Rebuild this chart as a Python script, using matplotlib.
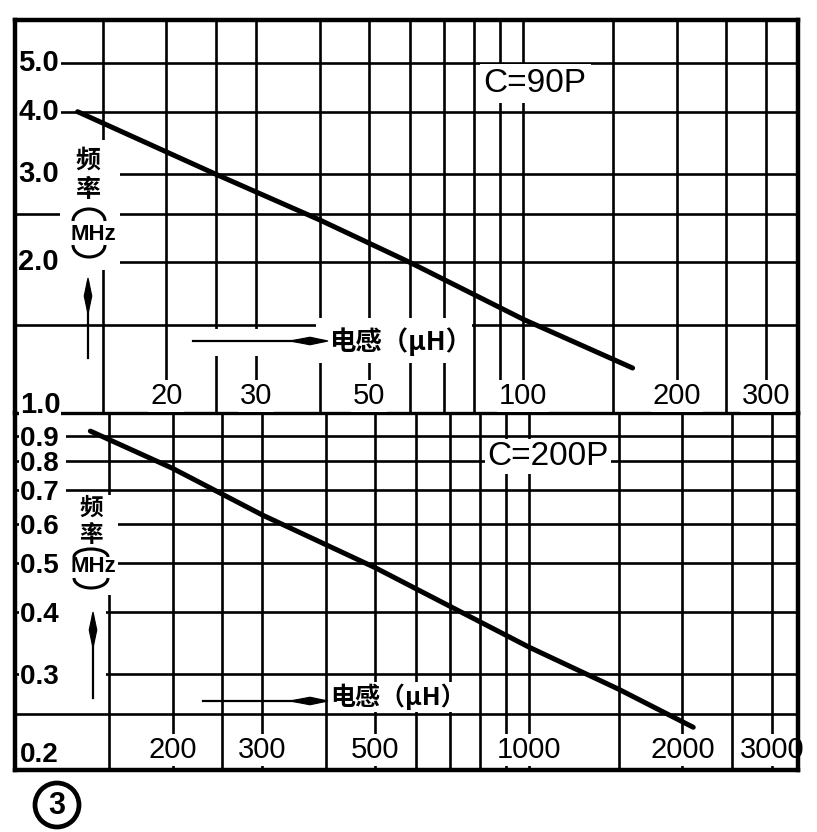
import matplotlib
matplotlib.use('Agg')
import matplotlib.pyplot as plt
import matplotlib.transforms as mtransforms
from matplotlib.patches import Rectangle, Polygon, Arc, Ellipse
from matplotlib.lines import Line2D

# ---------------- data ----------------
# upper chart: C = 90 pF, inductance 10..350 uH, frequency 1..6 MHz
top_L = [13.4, 25, 40, 60, 100, 164]
top_f = [4.0, 3.0, 2.43, 2.0, 1.54, 1.23]
top_xgrid = [15, 20, 25, 30, 40, 50, 60, 70, 80, 90, 100, 150, 200, 250, 300]
top_ygrid = [1.5, 2.0, 2.5, 3.0, 4.0, 5.0]
top_xlabels = [20, 30, 50, 100, 200, 300]
top_ylabels = [5.0, 4.0, 3.0, 2.0]

# lower chart: C = 200 pF, inductance 100..3400 uH, frequency 0.2..1 MHz
bot_L = [138, 200, 300, 500, 1000, 1500, 2100]
bot_f = [0.92, 0.775, 0.625, 0.49, 0.34, 0.28, 0.235]
bot_xgrid = [150, 200, 250, 300, 400, 500, 600, 700, 800, 900, 1000, 1500, 2000, 2500, 3000]
bot_ygrid = [0.25, 0.3, 0.4, 0.5, 0.6, 0.7, 0.8, 0.9]
bot_xlabels = [200, 300, 500, 1000, 2000, 3000]
bot_ylabels = [0.9, 0.8, 0.7, 0.6, 0.5, 0.4, 0.3]

top_title = "C=90P"
bot_title = "C=200P"
xlabel_text = "电感（µH）"
ylabel_chars = ["频", "率"]
unit_text = "MHz"
fig_number = "3"

# ---------------- styling ----------------
NARROW = ['Liberation Sans', 'DejaVu Sans']
SANS = ['Liberation Sans', 'DejaVu Sans']
CJK = ['Noto Sans CJK SC', 'DejaVu Sans']
W, H = 817, 832


def P(x, y):
    return (x / W, 1 - y / H)


fig = plt.figure(figsize=(W / 100, H / 100), dpi=100)
fig.patch.set_facecolor('white')
L0, R0 = 15, 798
ax1 = fig.add_axes([L0 / W, 1 - 413 / H, (R0 - L0) / W, (413 - 20) / H])
ax2 = fig.add_axes([L0 / W, 1 - 770 / H, (R0 - L0) / W, (770 - 413) / H])

for ax in (ax1, ax2):
    ax.set_xscale('log')
    ax.set_yscale('log')
    ax.set_facecolor('none')
    ax.tick_params(which='both', left=False, bottom=False, right=False, top=False,
                   labelleft=False, labelbottom=False)
    for s in ax.spines.values():
        s.set_linewidth(3.2)
        s.set_zorder(6)

ax1.set_xlim(10.1, 346)
ax1.set_ylim(1.0, 6.1)
ax2.set_xlim(98.2, 3370)
ax2.set_ylim(0.193, 1.0)
ax1.spines['bottom'].set_visible(False)
ax2.spines['top'].set_visible(False)

GLW = 1.9
for v in top_xgrid:
    ax1.axvline(v, color='k', lw=GLW, zorder=1)
for v in top_ygrid:
    ax1.axhline(v, color='k', lw=GLW, zorder=1)
ax1.axhline(1.0, color='k', lw=2.4, zorder=1, clip_on=False)
for v in bot_xgrid:
    ax2.axvline(v, color='k', lw=GLW, zorder=1)
for v in bot_ygrid:
    ax2.axhline(v, color='k', lw=GLW, zorder=1)

ax1.plot(top_L, top_f, color='k', lw=3.6, solid_capstyle='round', zorder=5)
ax2.plot(bot_L, bot_f, color='k', lw=3.6, solid_capstyle='round', zorder=5)

WB = dict(facecolor='white', edgecolor='none', pad=1.2)
WB0 = dict(facecolor='white', edgecolor='none', pad=0.3)

# tick labels inside the frame
bx1 = mtransforms.blended_transform_factory(ax1.transData, ax1.transAxes)
by1 = mtransforms.blended_transform_factory(ax1.transAxes, ax1.transData)
bx2 = mtransforms.blended_transform_factory(ax2.transData, ax2.transAxes)
by2 = mtransforms.blended_transform_factory(ax2.transAxes, ax2.transData)

for v in top_xlabels:
    ax1.text(v, 0.043, str(v), transform=bx1, ha='center', va='center',
             fontsize=21, family=NARROW, bbox=WB, zorder=3)
for v in bot_xlabels:
    ax2.text(v, 0.056, str(v), transform=bx2, ha='center', va='center',
             fontsize=21, family=NARROW, bbox=WB, zorder=3)
for v in top_ylabels:
    ax1.text(0.004, v, f"{v:.1f}", transform=by1, ha='left', va='center',
             fontsize=21, family=NARROW, fontweight='bold', bbox=WB, zorder=3)
ax1.text(0.006, 1.0, "1.0", transform=by1, ha='left', va='baseline',
         fontsize=21, family=NARROW, fontweight='bold', bbox=WB0, zorder=3)
for v in bot_ylabels:
    ax2.text(0.006, v, f"{v:.1f} ", transform=by2, ha='left', va='center_baseline',
             fontsize=20, family=NARROW, fontweight='bold', bbox=WB0, zorder=3)
ax2.text(0.006, 0.2, "0.2", transform=by2, ha='left', va='baseline',
         fontsize=20, family=NARROW, fontweight='bold', bbox=WB0, zorder=3)

FT = fig.transFigure


def white_rect(ax, x0, y0, x1, y1):
    ax.add_patch(Rectangle(P(x0, y1), (x1 - x0) / W, (y1 - y0) / H, transform=FT,
                           facecolor='white', edgecolor='none', zorder=2, clip_on=False))


def h_arrow(ax, x0, x1, y):
    ax.add_line(Line2D([x0 / W, (x1 - 4) / W], [1 - y / H, 1 - y / H], transform=FT,
                       color='k', lw=1.6, zorder=4))
    pts = [P(x1, y), P(x1 - 18, y - 3.8), P(x1 - 38, y), P(x1 - 18, y + 3.8)]
    ax.add_patch(Polygon(pts, closed=True, transform=FT, facecolor='k',
                         edgecolor='k', lw=0.8, zorder=4))


def v_arrow(ax, x, y0, y1):
    ax.add_line(Line2D([x / W, x / W], [1 - y0 / H, 1 - (y1 + 4) / H], transform=FT,
                       color='k', lw=1.6, zorder=4))
    pts = [P(x, y1), P(x - 3.8, y1 + 18), P(x, y1 + 36), P(x + 3.8, y1 + 18)]
    ax.add_patch(Polygon(pts, closed=True, transform=FT, facecolor='k',
                         edgecolor='k', lw=0.8, zorder=4))


# ---- upper chart annotations ----
white_rect(ax1, 60, 140, 120, 270)
ax1.text(*P(88, 161), ylabel_chars[0], transform=FT, ha='center', va='center',
         fontsize=18, family=CJK, fontweight='bold', zorder=3)
ax1.text(*P(88, 190), ylabel_chars[1], transform=FT, ha='center', va='center',
         fontsize=18, family=CJK, fontweight='bold', zorder=3)
ax1.add_patch(Arc(P(89, 221), 32 / W, 24 / H, theta1=0, theta2=180, transform=FT,
                  color='k', lw=2.2, zorder=3))
ax1.text(*P(93, 234), unit_text, transform=FT, ha='center', va='center',
         fontsize=16, family=NARROW, fontweight='bold', zorder=3)
ax1.add_patch(Arc(P(89, 245), 32 / W, 24 / H, theta1=180, theta2=360, transform=FT,
                  color='k', lw=2.2, zorder=3))
v_arrow(ax1, 88, 358, 278)

white_rect(ax1, 316, 318, 472, 363)
white_rect(ax1, 195, 329, 316, 356)
h_arrow(ax1, 193, 328, 341)
ax1.text(*P(329, 342), xlabel_text, transform=FT, ha='left', va='center',
         fontsize=19, family=CJK, fontweight='bold', zorder=3)

ax1.text(*P(535, 83), top_title, transform=FT, ha='center', va='center',
         fontsize=24, family=SANS, bbox=dict(facecolor='white', edgecolor='none', pad=3),
         zorder=3)

# ---- lower chart annotations ----
white_rect(ax2, 58, 495, 118, 595)
ax2.text(*P(91, 508), ylabel_chars[0], transform=FT, ha='center', va='center',
         fontsize=17, family=CJK, fontweight='bold', zorder=3)
ax2.text(*P(91, 535), ylabel_chars[1], transform=FT, ha='center', va='center',
         fontsize=17, family=CJK, fontweight='bold', zorder=3)
ax2.add_patch(Arc(P(91, 557), 34 / W, 16 / H, theta1=0, theta2=180, transform=FT,
                  color='k', lw=2.2, zorder=3))
ax2.text(*P(93, 567), unit_text, transform=FT, ha='center', va='center',
         fontsize=16, family=NARROW, fontweight='bold', zorder=3)
ax2.add_patch(Arc(P(91, 578), 34 / W, 20 / H, theta1=180, theta2=360, transform=FT,
                  color='k', lw=2.2, zorder=3))
white_rect(ax2, 58, 602, 106, 708)
v_arrow(ax2, 93, 698, 612)

h_arrow(ax2, 203, 328, 701)
ax2.text(*P(330, 697), xlabel_text, transform=FT, ha='left', va='center',
         fontsize=18, family=CJK, fontweight='bold', zorder=3,
         bbox=dict(facecolor='white', edgecolor='none', pad=1))

ax2.text(*P(548, 456), bot_title, transform=FT, ha='center', va='center',
         fontsize=24, family=SANS, bbox=dict(facecolor='white', edgecolor='none', pad=1.5),
         zorder=3)

# ---- figure number ----
fig.add_artist(Ellipse(P(57, 805), 44 / W, 44 / H, transform=FT, fill=False,
                       edgecolor='k', lw=3.4))
fig.text(*P(57, 806), fig_number, ha='center', va='center', fontsize=22,
         family=SANS, fontweight='bold')

fig.savefig('out.png', dpi=100, facecolor='white')
